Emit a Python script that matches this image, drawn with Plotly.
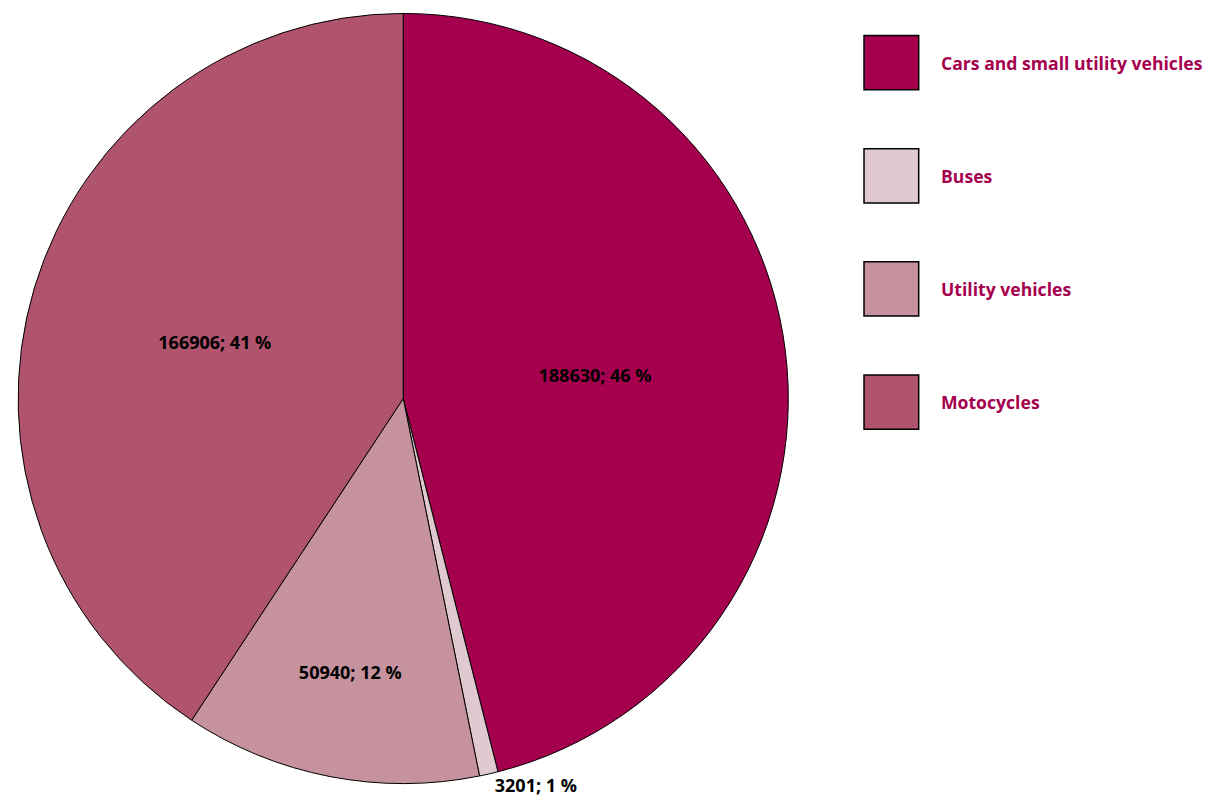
import plotly.graph_objects as go

# ---- data ----
categories = ["Cars and small utility vehicles", "Buses", "Utility vehicles", "Motocycles"]
values = [188630, 3201, 50940, 166906]
colors = ["#A5004E", "#E0CAD0", "#C6929D", "#B0536D"]
text_positions = ["inside", "outside", "inside", "inside"]

total = sum(values)
labels_text = [f"{v}; {round(v / total * 100)} %" for v in values]

# page offset of the plot div (default body margin)
OFF = 8
W, H = 1216 - 2 * OFF, 810 - 2 * OFF
FONT = "Open Sans"


def px(x):
    return min(1.0, max(0.0, (x - OFF) / W))


def py(y):
    return min(1.0, max(0.0, 1 - (y - OFF) / H))


fig = go.Figure()
fig.add_trace(go.Pie(
    labels=categories,
    values=values,
    text=labels_text,
    textinfo="text",
    textposition=text_positions,
    insidetextorientation="horizontal",
    sort=False,
    direction="clockwise",
    rotation=0,
    marker=dict(colors=colors, line=dict(color="black", width=1)),
    textfont=dict(family=FONT, size=18, color="black", weight="bold"),
    outsidetextfont=dict(family=FONT, size=18, color="black", weight="bold"),
    insidetextfont=dict(family=FONT, size=18, color="black", weight="bold"),
    domain=dict(x=[px(8), px(789)], y=[py(794.5), py(13.5)]),
    hoverinfo="label+value+percent",
))

# ---- custom legend (large swatches) ----
shapes = []
annotations = []
x0, size = 862, 55
y_first, step = 36, 114.7
for i, (name, col) in enumerate(zip(categories, colors)):
    ytop = y_first + i * step
    shapes.append(dict(
        type="rect", xref="paper", yref="paper",
        x0=px(x0), x1=px(x0 + size),
        y0=py(ytop + size), y1=py(ytop),
        fillcolor=col, line=dict(color="black", width=1.5),
    ))
    annotations.append(dict(
        xref="paper", yref="paper",
        x=px(937), y=py(ytop + size / 2),
        xanchor="left", yanchor="middle",
        text=name, showarrow=False,
        font=dict(family=FONT, size=17.6, color="#A5004E", weight="bold"),
    ))

fig.update_layout(
    width=W, height=H,
    margin=dict(l=0, r=0, t=0, b=0),
    paper_bgcolor="white",
    plot_bgcolor="white",
    showlegend=False,
    shapes=shapes,
    annotations=annotations,
)

fig.write_html("out.html")
